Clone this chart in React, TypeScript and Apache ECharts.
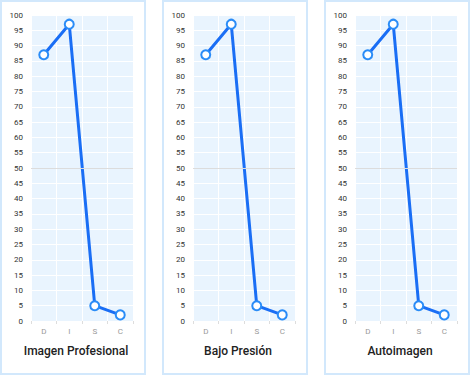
import React, { useEffect, useRef } from "react";
import * as echarts from "echarts";

const categories = ["D", "I", "S", "C"];
const titles = ["Imagen Profesional", "Bajo Presión", "Autoimagen"];
const seriesValues = [
  [87, 97, 5, 2],
  [87, 97, 5, 2],
  [87, 97, 5, 2],
];
const yMin = 0;
const yMax = 100;
const yStep = 5;
const refLine = 50;

export default function App() {
  const ref = useRef<HTMLDivElement>(null);
  useEffect(() => {
    if (!ref.current) return;
    const chart = echarts.init(ref.current, null, { renderer: "svg" });
    const cardW = 146;
    const cardGap = 16;
    const grids: any[] = [];
    const xAxes: any[] = [];
    const yAxes: any[] = [];
    const series: any[] = [];
    const graphics: any[] = [];
    titles.forEach((t, i) => {
      const X = i * (cardW + cardGap);
      grids.push({
        left: X + 31,
        top: 15,
        width: 102,
        height: 306,
        show: true,
        backgroundColor: "#e9f4fe",
        borderWidth: 0,
        containLabel: false,
      });
      xAxes.push({
        type: "category",
        gridIndex: i,
        data: categories,
        boundaryGap: true,
        axisLine: { show: false },
        axisTick: { show: true, length: 3, lineStyle: { color: "#dddddd" } },
        axisLabel: { color: "#999999", fontSize: 8, margin: 6, fontFamily: "Roboto" },
        splitLine: { show: true, lineStyle: { color: "#ffffff", width: 1 } },
      });
      yAxes.push({
        type: "value",
        gridIndex: i,
        min: yMin,
        max: yMax,
        interval: yStep,
        axisLine: { show: false },
        axisTick: { show: false },
        axisLabel: { color: "#333333", fontSize: 8, margin: 8, fontFamily: "Roboto" },
        splitLine: { show: true, lineStyle: { color: "#ffffff", width: 1 } },
      });
      series.push({
        type: "line",
        xAxisIndex: i,
        yAxisIndex: i,
        data: seriesValues[i],
        symbol: "circle",
        symbolSize: 9,
        showSymbol: true,
        lineStyle: { color: "#1a6ef5", width: 3 },
        itemStyle: { color: "#ffffff", borderColor: "#2a8cf7", borderWidth: 2 },
        markLine: {
          silent: true,
          symbol: "none",
          label: { show: false },
          lineStyle: { color: "#dcdcdc", type: "solid", width: 1 },
          data: [{ yAxis: refLine }],
        },
        z: 3,
      });
      graphics.push({
        type: "rect",
        shape: { x: X + 1, y: 1, width: cardW - 2, height: 373 },
        style: { fill: "none", stroke: "#d2e8fc", lineWidth: 2 },
        silent: true,
      });
      graphics.push({
        type: "text",
        x: X + 76,
        y: 351,
        style: {
          text: t,
          fill: "#222222",
          fontSize: 12,
          fontWeight: 500,
          fontFamily: "Roboto",
          textAlign: "center",
          textVerticalAlign: "middle",
        },
        silent: true,
      });
    });
    chart.setOption({
      animation: false,
      grid: grids,
      xAxis: xAxes,
      yAxis: yAxes,
      series,
      graphic: graphics,
    });
    return () => chart.dispose();
  }, []);
  return (
    <div
      ref={ref}
      style={{ position: "absolute", left: 0, top: 0, width: 471, height: 375, background: "#ffffff" }}
    />
  );
}
